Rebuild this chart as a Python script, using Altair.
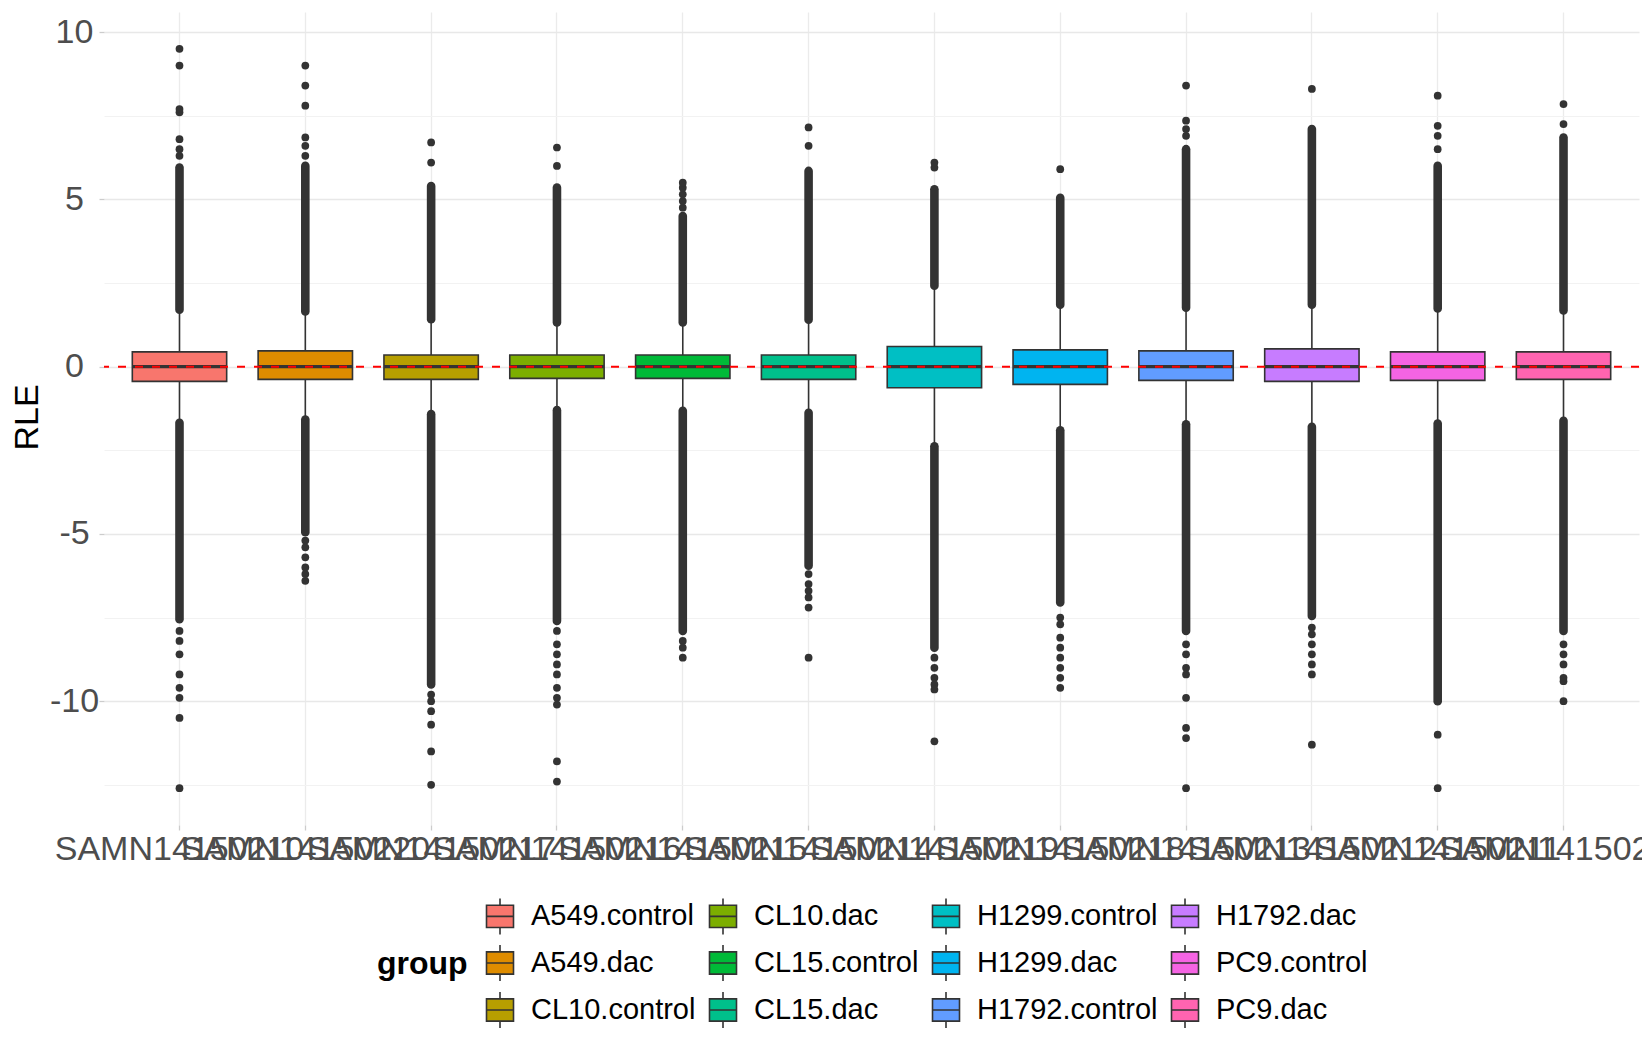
import altair as alt
import pandas as pd

# ---------------- data ----------------
samples = ["SAMN14150210", "SAMN14150220", "SAMN14150217", "SAMN14150216",
           "SAMN14150215", "SAMN14150214", "SAMN14150219", "SAMN14150218",
           "SAMN14150213", "SAMN14150212", "SAMN14150211", "SAMN14150221"]
groups = ["A549.control", "A549.dac", "CL10.control", "CL10.dac",
          "CL15.control", "CL15.dac", "H1299.control", "H1299.dac",
          "H1792.control", "H1792.dac", "PC9.control", "PC9.dac"]
colors = ["#F8766D", "#DE8C00", "#B79F00", "#7CAE00", "#00BA38", "#00C08B",
          "#00BFC4", "#00B4F0", "#619CFF", "#C77CFF", "#F564E3", "#FF64B0"]

q1 = [-0.44, -0.38, -0.38, -0.35, -0.35, -0.38, -0.63, -0.53, -0.41, -0.44, -0.41, -0.38]
median = [0.0, 0.0, 0.0, 0.0, 0.0, 0.0, 0.0, 0.0, 0.0, 0.0, 0.0, 0.0]
q3 = [0.44, 0.47, 0.35, 0.35, 0.35, 0.35, 0.60, 0.50, 0.47, 0.53, 0.44, 0.44]
whisker_hi = [1.70, 1.65, 1.42, 1.32, 1.32, 1.40, 2.42, 1.85, 1.76, 1.85, 1.74, 1.68]
whisker_lo = [-1.68, -1.58, -1.42, -1.30, -1.32, -1.38, -2.38, -1.90, -1.72, -1.80, -1.70, -1.62]

# extent of the densely packed outliers (they merge into a solid column)
dense_up_top = [5.95, 6.0, 5.4, 5.35, 4.5, 5.85, 5.3, 5.05, 6.5, 7.1, 6.0, 6.85]
dense_lo_bottom = [-7.55, -4.95, -9.5, -7.6, -7.9, -5.95, -8.4, -7.05, -7.9, -7.45, -10.0, -7.9]

# isolated outliers
up_sparse = [[6.3, 6.5, 6.8, 7.6, 7.7, 9.0, 9.5],
             [6.3, 6.6, 6.85, 7.8, 8.4, 9.0],
             [6.1, 6.7],
             [6.0, 6.55],
             [4.75, 4.95, 5.15, 5.35, 5.5],
             [6.6, 7.15],
             [5.95, 6.1],
             [5.9],
             [6.9, 7.1, 7.35, 8.4],
             [8.3],
             [6.5, 6.9, 7.2, 8.1],
             [7.25, 7.85]]
lo_sparse = [[-7.9, -8.2, -8.6, -9.2, -9.6, -9.9, -10.5, -12.6],
             [-5.2, -5.4, -5.7, -6.0, -6.2, -6.4],
             [-9.8, -10.0, -10.3, -10.7, -11.5, -12.5],
             [-7.9, -8.3, -8.6, -8.9, -9.2, -9.6, -9.9, -10.1, -11.8, -12.4],
             [-8.2, -8.4, -8.7],
             [-6.2, -6.5, -6.7, -6.9, -7.2, -8.7],
             [-8.7, -9.0, -9.3, -9.5, -9.65, -11.2],
             [-7.5, -7.7, -8.1, -8.4, -8.7, -9.0, -9.3, -9.6],
             [-8.3, -8.6, -9.0, -9.2, -9.9, -10.8, -11.1, -12.6],
             [-7.8, -8.0, -8.3, -8.6, -8.9, -9.2, -11.3],
             [-11.0, -12.6],
             [-8.3, -8.6, -8.9, -9.3, -9.4, -10.0]]

y_ticks = [-12.5, -10, -7.5, -5, -2.5, 0, 2.5, 5, 7.5, 10]
reference_line = [0]

# legend shows the groups column by column (4 columns x 3 rows)
legend_order = [0, 3, 6, 9, 1, 4, 7, 10, 2, 5, 8, 11]

# ---------------- tables ----------------
box_df = pd.DataFrame({
    "sample": samples, "group": groups, "q1": q1, "median": median, "q3": q3,
    "wlo": whisker_lo, "whi": whisker_hi,
    "dtop": dense_up_top, "dbot": dense_lo_bottom,
})
out_df = pd.DataFrame(
    [{"sample": s, "value": v}
     for s, ups, los in zip(samples, up_sparse, lo_sparse) for v in ups + los]
)
ref_df = pd.DataFrame({"y": reference_line})

FONT = "Liberation Sans"
DARK = "#333333"
MAJOR = "datum.value % 5 == 0"

x_enc = alt.X(
    "sample:N", sort=samples,
    scale=alt.Scale(paddingInner=0, paddingOuter=0.1),
    axis=alt.Axis(title=None, labelAngle=0, labelOverlap=False, labelFontSize=34,
                  labelColor="#4D4D4D", labelFont=FONT, ticks=True, tickSize=5,
                  tickColor="#CCCCCC", tickWidth=1.3, domain=False,
                  grid=True, gridColor="#EBEBEB", gridWidth=1.3, bandPosition=0.5,
                  labelPadding=2, labelLimit=0),
)
y_scale = alt.Scale(domain=[-13.7, 10.6], nice=False, zero=False)
y_axis = alt.Axis(
    title="RLE", values=y_ticks,
    labelExpr=f"{MAJOR} ? '' + datum.value : ''",
    labelFontSize=34, labelColor="#4D4D4D", labelFont=FONT, labelPadding=25,
    labelAlign="center",
    ticks=True, tickSize=5, tickWidth=1.3,
    tickColor={"condition": {"test": f"!({MAJOR})", "value": "rgba(0,0,0,0)"}, "value": "#CCCCCC"},
    domain=False, grid=True,
    gridColor={"condition": {"test": f"!({MAJOR})", "value": "#F2F2F2"}, "value": "#E8E8E8"},
    gridWidth={"condition": {"test": f"!({MAJOR})", "value": 1.0}, "value": 1.4},
    titleFontSize=34, titleFont=FONT, titleFontWeight="normal", titleColor="black",
    titleX=-67, titleY=405, titleAngle=-90, titleAlign="center", titleBaseline="alphabetic",
)

base = alt.Chart(box_df)

whiskers = base.mark_rule(color=DARK, strokeWidth=1.6).encode(
    x=x_enc, y=alt.Y("wlo:Q", scale=y_scale, axis=y_axis), y2="whi:Q")

dense_up = base.mark_rule(color=DARK, strokeWidth=8.6, strokeCap="round").encode(
    x=x_enc, y=alt.Y("whi:Q", scale=y_scale, axis=y_axis), y2="dtop:Q")
dense_lo = base.mark_rule(color=DARK, strokeWidth=8.6, strokeCap="round").encode(
    x=x_enc, y=alt.Y("dbot:Q", scale=y_scale, axis=y_axis), y2="wlo:Q")

points = alt.Chart(out_df).mark_circle(size=60, color=DARK, opacity=1).encode(
    x=x_enc, y=alt.Y("value:Q", scale=y_scale, axis=y_axis))

box_symbol = ("M-0.75,-0.62H0.75V0.62H-0.75Z"
              "M-0.75,0H0.75"
              "M0,-0.62V-1M0,0.62V1")

boxes = base.mark_bar(width=alt.RelativeBandSize(0.75), stroke=DARK, strokeWidth=1.6,
                      opacity=1).encode(
    x=x_enc,
    y=alt.Y("q1:Q", scale=y_scale, axis=y_axis), y2="q3:Q",
    fill=alt.Fill(
        "group:N",
        scale=alt.Scale(domain=[groups[i] for i in legend_order],
                        range=[colors[i] for i in legend_order]),
        legend=alt.Legend(
            orient="none", legendX=273, legendY=885, direction="horizontal", columns=4,
            title="group", titleOrient="left", titleAnchor="middle", titleBaseline="middle",
            titleFontSize=32, titleFontWeight="bold", titleColor="black", titleFont=FONT,
            titlePadding=13,
            labelFontSize=29, labelColor="black", labelFont=FONT, labelOffset=12,
            labelLimit=0,
            symbolType=box_symbol, symbolSize=1296, symbolStrokeColor=DARK,
            symbolStrokeWidth=1.6, symbolOpacity=1,
            rowPadding=3, columnPadding=8, gridAlign="each",
        ),
    ),
)

medians = base.mark_tick(color=DARK, size=94, thickness=3.2, opacity=1).encode(
    x=x_enc, y=alt.Y("median:Q", scale=y_scale, axis=y_axis))

ref = alt.Chart(ref_df).mark_rule(color="#FF0000", strokeWidth=2, strokeDash=[8, 9]).encode(
    y=alt.Y("y:Q", scale=y_scale, axis=y_axis))

chart = alt.layer(whiskers, dense_up, dense_lo, points, boxes, medians, ref).properties(
    width=1535, height=813,
    autosize=alt.AutoSizeParams(type="none"),
    padding={"left": 96, "top": 4, "right": 3, "bottom": 205},
    background="white",
).configure_view(stroke=None)

chart.save("out.html", embed_options={"renderer": "svg", "actions": False})
